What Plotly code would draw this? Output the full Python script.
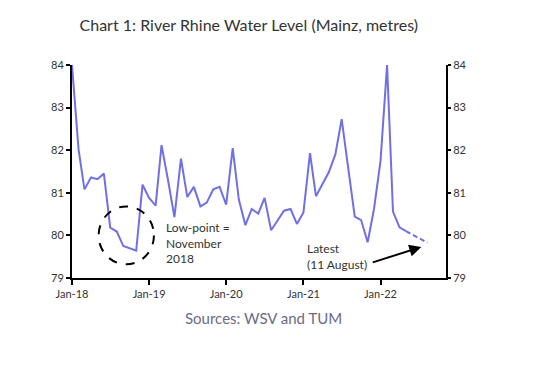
import pandas as pd
import plotly.graph_objects as go

# ---- data ----
months = pd.date_range("2018-01-01", "2022-05-01", freq="MS").strftime("%Y-%m-%d").tolist()
level = [
    84.00, 82.02, 81.08, 81.36, 81.32, 81.45, 80.18, 80.09, 79.75, 79.69, 79.64, 81.19,  # 2018
    80.88, 80.70, 82.12, 81.29, 80.43, 81.80, 80.90, 81.14, 80.68, 80.77, 81.08, 81.14,  # 2019
    80.72, 82.05, 80.84, 80.24, 80.62, 80.51, 80.88, 80.12, 80.37, 80.58, 80.62, 80.27,  # 2020
    80.54, 81.93, 80.92, 81.19, 81.48, 81.90, 82.73, 81.58, 80.44, 80.36, 79.84, 80.62,  # 2021
    81.75, 84.00, 80.56, 80.19, 80.10,                                                   # 2022
]
latest_dates = ["2022-05-01", "2022-08-11"]
latest_vals = [80.10, 79.83]

tick_vals = ["2018-01-01", "2019-01-01", "2020-01-01", "2021-01-01", "2022-01-01"]
tick_text = ["Jan-18", "Jan-19", "Jan-20", "Jan-21", "Jan-22"]
y_ticks = [79, 80, 81, 82, 83, 84]

LINE = "rgb(112,112,230)"
FONT = "Lato"

fig = go.Figure()
fig.add_trace(go.Scatter(x=months, y=level, mode="lines",
                         line=dict(color=LINE, width=2), showlegend=False, hoverinfo="skip"))
fig.add_trace(go.Scatter(x=latest_dates, y=latest_vals, mode="lines",
                         line=dict(color=LINE, width=2, dash="5px,3px"), showlegend=False, hoverinfo="skip"))
# invisible trace to anchor right axis
fig.add_trace(go.Scatter(x=[months[0]], y=[level[0]], yaxis="y2", mode="lines",
                         line=dict(width=0), showlegend=False, hoverinfo="skip"))

axis_font = dict(family=FONT, size=11, color="#333333")

fig.update_layout(
    width=546, height=358,
    margin=dict(l=64, r=108, t=57, b=88),
    paper_bgcolor="white", plot_bgcolor="white",
    font=dict(family=FONT, color="#333333"),
    title=dict(text="Chart 1: River Rhine Water Level (Mainz, metres)",
               x=0.441, xanchor="center", y=0.9525, yanchor="middle",
               font=dict(family=FONT, size=16, color="#333333")),
    xaxis=dict(type="date", range=["2018-01-01", "2022-11-07"],
               tickvals=tick_vals, ticktext=tick_text,
               showgrid=False, zeroline=False,
               showline=True, linecolor="black", linewidth=2,
               ticks="outside", ticklen=5, tickwidth=1.5, tickcolor="black",
               tickfont=axis_font),
    yaxis=dict(range=[79, 84], tickvals=y_ticks, showgrid=False, zeroline=False,
               showline=True, linecolor="black", linewidth=2,
               ticks="outside", ticklen=4, tickwidth=1.5, tickcolor="black",
               tickfont=axis_font),
    yaxis2=dict(range=[79, 84], tickvals=y_ticks, overlaying="y", side="right",
                showgrid=False, zeroline=False,
                showline=True, linecolor="black", linewidth=2,
                ticks="outside", ticklen=3, tickwidth=1.5, tickcolor="black",
                tickfont=axis_font),
)

# low-point circle
fig.add_shape(type="circle", xref="x", yref="y",
              x0="2018-05-07", x1="2019-01-24", y0=79.32, y1=80.68,
              line=dict(color="black", width=2, dash="dash"))

fig.add_annotation(x="2019-03-13", y=79.82, xref="x", yref="y",
                   text="Low-point =<br>November<br>2018", showarrow=False,
                   xanchor="left", yanchor="middle", align="left",
                   font=dict(family=FONT, size=12, color="#333333"))

fig.add_annotation(x="2022-07-13", y=79.73, xref="x", yref="y",
                   ax=-50, ay=16, showarrow=True, arrowhead=2, arrowsize=1.2,
                   arrowwidth=2, arrowcolor="black", text="")

fig.add_annotation(x="2021-01-10", y=79.5, xref="x", yref="y",
                   text="Latest<br>(11 August)", showarrow=False,
                   xanchor="left", yanchor="middle", align="left",
                   font=dict(family=FONT, size=12, color="#333333"))

fig.add_annotation(x=0.5126, y=-0.188, xref="paper", yref="paper",
                   text="Sources: WSV and TUM", showarrow=False,
                   xanchor="center", yanchor="middle",
                   font=dict(family=FONT, size=15, color="#6b6b86"))

fig.write_html("out.html")
